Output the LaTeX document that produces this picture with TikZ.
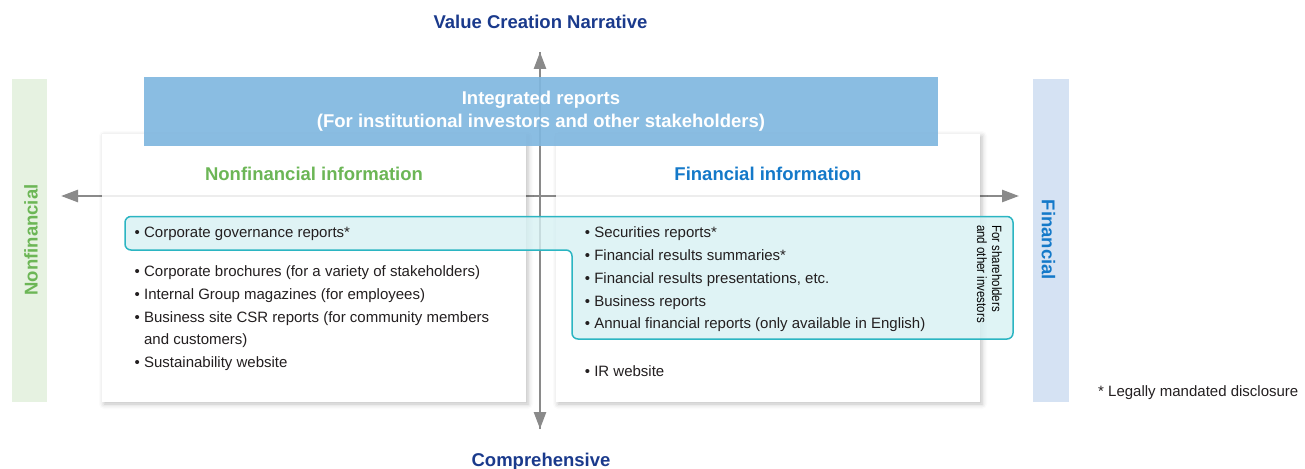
\documentclass[tikz,border=0pt]{standalone}
\usepackage{fontspec}
\setmainfont{Liberation Sans}
\usepackage{xcolor}
\usetikzlibrary{arrows.meta}
\usetikzlibrary{shadows.blur}
\usetikzlibrary{math}

\definecolor{navy}{HTML}{1A3A8C}
\definecolor{leafgreen}{HTML}{6CB656}
\definecolor{paleleaf}{HTML}{E6F2E1}
\definecolor{finblue}{HTML}{1479C9}
\definecolor{palefin}{HTML}{D5E2F3}
\definecolor{intblue}{HTML}{80B7DF}
\definecolor{tealline}{HTML}{2BB5C2}
\definecolor{tealfill}{HTML}{D7F1F3}
\definecolor{axisgray}{HTML}{8A8A8A}
\definecolor{bodytext}{HTML}{231F20}

\tikzset{
  axis/.style={-{Triangle[length=17pt,width=12pt]}, line width=2.6, draw=axisgray},
  panel/.style={fill=white, inner sep=0, outer sep=0, anchor=north west,
    blur shadow={shadow xshift=2pt, shadow yshift=-2pt, shadow blur radius=5pt, shadow opacity=25}},
  band/.style={inner sep=0, outer sep=0, anchor=north west},
  bigtitle/.style={font=\fontsize{18.5}{22}\selectfont\bfseries, inner sep=0, anchor=base},
  item/.style={font=\fontsize{15}{18}\selectfont, text=bodytext, inner sep=0, anchor=base west},
}

\begin{document}
\begin{tikzpicture}[x=1pt, y=-1pt]
\tikzmath{
\lx=134.5;
\rx=584.7;
\hang=9.4;
}
\useasboundingbox (0,0) rectangle (1305,468);

% side bands
\node[band, fill=paleleaf, minimum width=35, minimum height=323] (nfbar) at (12,79) {};
\node[band, fill=palefin, minimum width=36, minimum height=323] (fbar) at (1033,79) {};

% axes
\coordinate (origin) at (540,196);
\coordinate (west) at (61,196);
\coordinate (east) at (1019,196);
\coordinate (north) at (540,52);
\coordinate (south) at (540,429);
\draw[axis] (origin) -- (west);
\draw[axis] (origin) -- (east);

% panels
\node[panel, minimum width=424, minimum height=268] (nfpanel) at (102,134) {};
\node[panel, minimum width=424, minimum height=268] (fpanel) at (556,134) {};
\draw[black!7, line width=2.6] (nfpanel.west |- origin) -- (nfpanel.east |- origin);
\draw[black!7, line width=2.6] (fpanel.west |- origin) -- (fpanel.east |- origin);

\draw[axis] (south) -- (north);
\draw[axis] (north) -- (south);

% integrated reports
\node[band, fill=intblue, fill opacity=0.92, minimum width=794, minimum height=69] (intbox) at (144,77) {};

% shareholders frame
\draw[tealline, line width=1.5, fill=tealfill, fill opacity=0.8, rounded corners=6]
  (125,216.5) -- (1013,216.5) -- (1013,339) -- (572,339) -- (572,250) -- (125,250) -- cycle;

% titles
\node[bigtitle, text=navy] (vcn) at (540.5,28.5) {Value Creation Narrative};
\node[bigtitle, text=navy] (comp) at (541,466) {Comprehensive};
\node[bigtitle, text=white] (intline1) at (541,105) {Integrated reports};
\node[bigtitle, text=white] (intline2) at (541,128) {(For institutional investors and other stakeholders)};
\node[bigtitle, text=leafgreen] (nftitle) at (314,180) {Nonfinancial information};
\node[bigtitle, text=finblue] (ftitle) at (768,180) {Financial information};
\node[bigtitle, anchor=center, rotate=90, text=leafgreen] (nflabel) at (31,240) {Nonfinancial};
\node[bigtitle, anchor=center, rotate=-90, text=finblue] (flabel) at (1048.5,240) {Financial};

% nonfinancial items
\node[item] (nf1) at (\lx,237.5) {• Corporate governance reports*};
\node[item] (nf2) at (\lx,276) {• Corporate brochures (for a variety of stakeholders)};
\node[item] (nf3) at (\lx,299) {• Internal Group magazines (for employees)};
\node[item] (nf4) at (\lx,322) {• Business site CSR reports (for community members};
\node[item] (nf4b) at (\lx+\hang,344.5) {and customers)};
\node[item] (nf5) at (\lx,367) {• Sustainability website};

% financial items
\node[item] (f1) at (\rx,237.5) {• Securities reports*};
\node[item] (f2) at (\rx,260.5) {• Financial results summaries*};
\node[item] (f3) at (\rx,283.5) {• Financial results presentations, etc.};
\node[item] (f4) at (\rx,306) {• Business reports};
\node[item] (f5) at (\rx,328.5) {• Annual financial reports (only available in English)};
\node[item] (f6) at (\rx,376.5) {• IR website};

\node[font=\fontsize{13.5}{15}\selectfont, text=black, rotate=-90, anchor=north west, align=left, inner sep=0] (holders) at (1002,225)
  {\scalebox{0.85}[1]{For shareholders}\\\scalebox{0.85}[1]{and other investors}};

\node[item] (note) at (1098,396) {* Legally mandated disclosure};

\end{tikzpicture}
\end{document}
